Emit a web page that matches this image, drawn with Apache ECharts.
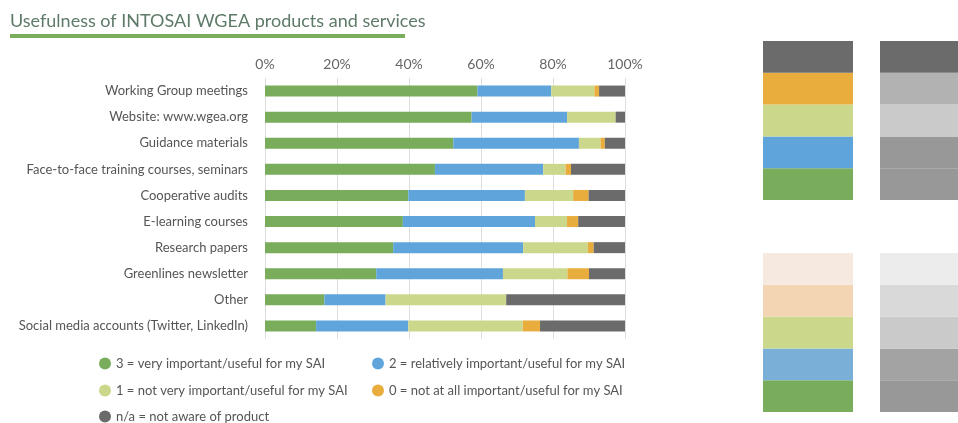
<!DOCTYPE html>
<html><head><meta charset="utf-8">
<script src="https://cdn.jsdelivr.net/npm/echarts@6/dist/echarts.min.js"></script>
<style>html,body{margin:0;padding:0;background:#fff}#c{width:958px;height:423px}</style>
</head><body><div id="c"></div>
<script>
var categories = ["Working Group meetings","Website: www.wgea.org","Guidance materials","Face-to-face training courses, seminars","Cooperative audits","E-learning courses","Research papers","Greenlines newsletter","Other","Social media accounts (Twitter, LinkedIn)"];
var seriesNames = ["3 = very important/useful for my SAI","2 = relatively important/useful for my SAI","1 = not very important/useful for my SAI","0 = not at all important/useful for my SAI","n/a = not aware of product"];
var veryImportant   = [59.0, 57.4, 52.3, 47.2, 39.8, 38.3, 35.6, 30.9, 16.5, 14.2];
var relImportant    = [20.5, 26.5, 34.9, 30.1, 32.4, 36.7, 36.1, 35.2, 17.0, 25.6];
var notVery         = [12.0, 13.5,  6.0,  6.2, 13.4,  8.9, 18.0, 17.9, 33.5, 31.8];
var notAtAll        = [ 1.3,  0.0,  1.2,  1.5,  4.3,  3.1,  1.6,  6.0,  0.0,  4.8];
var notAware        = [ 7.2,  2.6,  5.6, 15.0, 10.1, 13.0,  8.7, 10.0, 33.0, 23.6];
var tickLabels = ["0%","20%","40%","60%","80%","100%"];
var swatchSegments = [1, 1, 1, 1, 1];

var colors = ["#79ad5c","#5fa5dc","#cbd88c","#e8ad3c","#6b6b6b"];
var swTopLeft = ["#79ad5c","#5fa5dc","#cbd88c","#e8ad3c","#6b6b6b"];
var swTopRight = ["#989898","#989898","#cacaca","#b2b2b2","#6b6b6b"];
var swBotLeft = ["#79ad5c","#7ab0d8","#cbd88c","#f3d5b3","#f6e9e0"];
var swBotRight = ["#989898","#a3a3a3","#cacaca","#d9d9d9","#ececec"];

var values = [veryImportant, relImportant, notVery, notAtAll, notAware];
var FONT = "Lato";
var series = [];
values.forEach(function (v, i) {
  series.push({
    name: seriesNames[i], type: "bar", stack: "total", xAxisIndex: 0, yAxisIndex: 0,
    barWidth: 11, data: v, itemStyle: { color: colors[i] }, silent: true
  });
});
function swatchSeries(gridIdx, leftCols, rightCols) {
  swatchSegments.forEach(function (s, i) {
    series.push({
      type: "bar", stack: "sw" + gridIdx, xAxisIndex: gridIdx, yAxisIndex: gridIdx,
      barWidth: 90, silent: true,
      data: [
        { value: s, itemStyle: { color: leftCols[i] } },
        { value: s, itemStyle: { color: rightCols[i] } }
      ]
    });
  });
}
swatchSeries(1, swTopLeft, swTopRight);
swatchSeries(2, swBotLeft, swBotRight);

var legendPos = [[99,357],[372,357],[99,384],[372,384],[99,410]];
var legends = seriesNames.map(function (n, i) {
  return {
    data: [n], left: legendPos[i][0], top: legendPos[i][1], icon: "circle", padding: 0,
    itemWidth: 12, itemHeight: 12, selectedMode: false,
    textStyle: { fontFamily: FONT, fontSize: 13, color: "#555" }
  };
});

var chart = echarts.init(document.getElementById("c"), null, { renderer: "canvas" });
chart.setOption({
  animation: false,
  textStyle: { fontFamily: FONT },
  title: {
    text: "Usefulness of INTOSAI WGEA products and services", left: 10, top: 12, padding: 0,
    textStyle: { fontFamily: FONT, fontSize: 18, fontWeight: "normal", color: "#5e7a68" }
  },
  graphic: [{ type: "rect", shape: { x: 10, y: 34, width: 395, height: 4 }, style: { fill: "#79ad5c" }, silent: true }],
  legend: legends,
  grid: [
    { left: 265, right: 333, top: 78, bottom: 84, outerBoundsMode: "none" },
    { left: 749.5, width: 234, top: 41, height: 159, outerBoundsMode: "none" },
    { left: 749.5, width: 234, top: 253, height: 159, outerBoundsMode: "none" }
  ],
  xAxis: [
    { type: "value", gridIndex: 0, position: "top", min: 0, max: 100, interval: 20,
      axisLine: { show: false }, axisTick: { show: false },
      splitLine: { show: true, lineStyle: { color: "#dedede", width: 1 } },
      axisLabel: { margin: 7, fontFamily: FONT, fontSize: 14, color: "#666",
        formatter: function (v) { return tickLabels[Math.round(v / 20)]; } } },
    { type: "category", gridIndex: 1, data: ["a","b"], show: false },
    { type: "category", gridIndex: 2, data: ["a","b"], show: false }
  ],
  yAxis: [
    { type: "category", gridIndex: 0, data: categories, inverse: true,
      axisLine: { show: false }, axisTick: { show: false }, splitLine: { show: false },
      axisLabel: { margin: 17, fontFamily: FONT, fontSize: 13, color: "#555" } },
    { type: "value", gridIndex: 1, min: 0, max: 5, show: false },
    { type: "value", gridIndex: 2, min: 0, max: 5, show: false }
  ],
  series: series
});
</script></body></html>
